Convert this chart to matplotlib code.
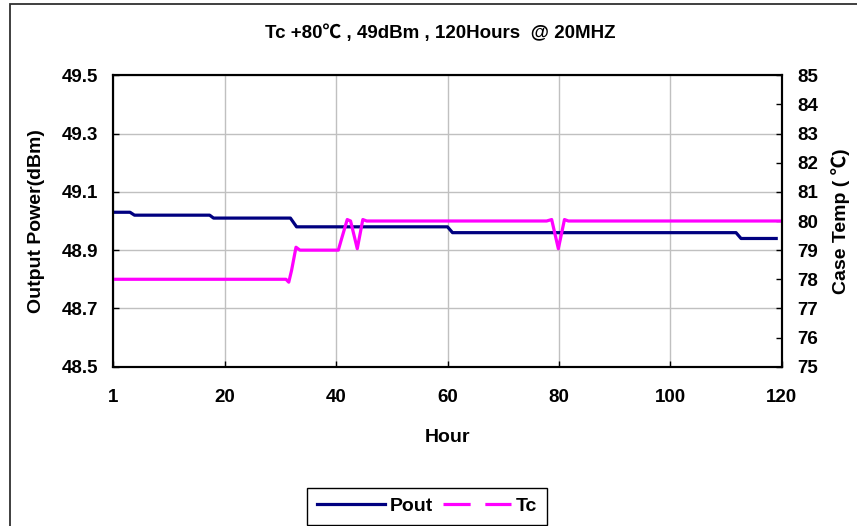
import matplotlib
matplotlib.use("Agg")
import matplotlib.pyplot as plt
from matplotlib.lines import Line2D
from matplotlib.patches import Rectangle

plt.rcParams['font.family'] = ['Liberation Sans', 'Noto Sans CJK SC', 'DejaVu Sans']
plt.rcParams['font.weight'] = 'bold'

# Pout (dBm) vs hour
pout_hour = [0, 3.0, 3.8, 17.3, 18.0, 31.8, 32.9, 60.0, 60.9, 111.8, 112.7, 119.3]
pout_dbm = [49.03, 49.03, 49.02, 49.02, 49.01, 49.01, 48.98, 48.98, 48.96, 48.96, 48.94, 48.94]

# case temperature Tc (degC) vs hour
tc_hour = [0, 31.0, 31.5, 32.0, 32.8, 33.5, 40.4, 41.0, 42.0, 42.6, 43.8, 44.8, 45.5,
           77.8, 78.7, 79.9, 81.0, 81.7, 120]
tc_temp = [78, 78, 77.9, 78.3, 79.1, 79.0, 79.0, 79.4, 80.05, 80.0, 79.05, 80.05, 80.0,
           80.0, 80.05, 79.05, 80.05, 80.0, 80.0]

x_ticks = [0, 20, 40, 60, 80, 100, 120]
x_labels = ['1', '20', '40', '60', '80', '100', '120']
left_ticks = [48.5, 48.7, 48.9, 49.1, 49.3, 49.5]
right_ticks = list(range(75, 86))

W, H = 857, 526
fig = plt.figure(figsize=(W / 100, H / 100), dpi=100)
ax = fig.add_axes([113.3 / W, 1 - 366.7 / H, (781.7 - 113.3) / W, (366.7 - 75.3) / H])
ax2 = ax.twinx()

navy = '#000080'
pink = '#FF00FF'

ax.plot(pout_hour, pout_dbm, color=navy, lw=2.3, solid_capstyle='butt')
ax2.plot(tc_hour, tc_temp, color=pink, lw=2.3, solid_capstyle='butt')

ax.set_xlim(0, 120)
ax.set_ylim(48.5, 49.5)
ax2.set_ylim(75, 85)
ax.set_xticks(x_ticks)
ax.set_xticklabels(x_labels)
ax.set_yticks(left_ticks)
ax.set_yticklabels(['%.1f' % v for v in left_ticks])
ax2.set_yticks(right_ticks)

ax.grid(True, color='#c0c0c0', lw=1)
ax.set_axisbelow(True)

for a in (ax, ax2):
    a.tick_params(direction='in', length=4, width=1, labelsize=13.5)
    for s in a.spines.values():
        s.set_linewidth(1.5)
        s.set_color('black')
ax.tick_params(axis='x', pad=16)
ax.tick_params(axis='y', pad=11)
ax2.tick_params(axis='y', pad=11)
for lab in ax.get_xticklabels() + ax.get_yticklabels() + ax2.get_yticklabels():
    lab.set_fontweight('bold')

ax.set_xlabel('Hour', fontsize=14, fontweight='bold')
ax.xaxis.set_label_coords(0.5, -0.213)
ax.set_ylabel('Output Power(dBm)', fontsize=14, fontweight='bold')
ax.yaxis.set_label_coords(-0.102, 0.5)
ax2.set_ylabel('Case Temp ( ℃)', fontsize=14, fontweight='bold')
ax2.yaxis.set_label_coords(1.074, 0.5)

fig.text(440 / W, 1 - 33 / H, 'Tc +80℃ , 49dBm , 120Hours  @ 20MHZ',
         ha='center', va='center', fontsize=13.5, fontweight='bold')

# outer chart frame (cut at right and bottom)
fig.patches.append(Rectangle((10 / W, -0.1), 1.2, 1 - 4 / H + 0.1, transform=fig.transFigure,
                             fill=False, edgecolor='#303030', lw=1.3))

handles = [Line2D([], [], color=navy, lw=2.3),
           Line2D([], [], color=pink, lw=2.3, dashes=(8.5, 4.6))]
leg = fig.legend(handles, ['Pout', 'Tc'], loc='upper left',
                 bbox_to_anchor=(307 / W, 1 - 487.7 / H), ncol=2,
                 prop={'size': 14, 'weight': 'bold'}, frameon=True, fancybox=False,
                 edgecolor='black', framealpha=1, borderpad=0.5, handlelength=3.5,
                 handletextpad=0.25, columnspacing=0.5, borderaxespad=0)
leg.get_frame().set_linewidth(1)

fig.savefig('out.png', dpi=100)
